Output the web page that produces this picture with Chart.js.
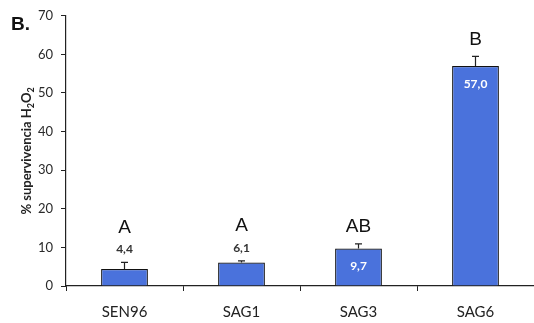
<!DOCTYPE html>
<html>
<head>
<meta charset="utf-8">
<script src="https://cdn.jsdelivr.net/npm/chart.js@4/dist/chart.umd.min.js"></script>
<style>
  html, body { margin: 0; padding: 0; background: #ffffff; }
  #wrap { position: relative; width: 534px; height: 323px; }
</style>
</head>
<body>
<div id="wrap"><canvas id="c" width="534" height="323"></canvas></div>
<script>
// Survival (%) after H2O2 treatment per strain
const strains = ['SEN96', 'SAG1', 'SAG3', 'SAG6'];
const survival = [4.4, 6.1, 9.7, 57.0];
const survivalErr = [1.7, 0.4, 1.2, 2.5];
const groupLetters = ['A', 'A', 'AB', 'B'];
const yTicks = [0, 10, 20, 30, 40, 50, 60, 70];

const fmt = v => v.toFixed(1).replace('.', ',');

// Error bars, value labels, significance letters, panel label and y title
const annotate = {
  id: 'annotate',
  afterDatasetsDraw(chart) {
    const ctx = chart.ctx;
    const y = chart.scales.y;
    const meta = chart.getDatasetMeta(0);
    const base = y.getPixelForValue(0);
    ctx.save();
    meta.data.forEach((bar, i) => {
      const top = y.getPixelForValue(survival[i]);
      const errTop = y.getPixelForValue(survival[i] + survivalErr[i]);
      // upper whisker with cap
      ctx.strokeStyle = '#222';
      ctx.lineWidth = 1.2;
      ctx.beginPath();
      ctx.moveTo(bar.x, top);
      ctx.lineTo(bar.x, errTop);
      ctx.moveTo(bar.x - 3.5, errTop);
      ctx.lineTo(bar.x + 3.5, errTop);
      ctx.stroke();

      const inside = (base - top) > 30;
      ctx.textAlign = 'center';
      ctx.textBaseline = 'middle';
      if (inside) {
        ctx.fillStyle = '#ffffff';
        ctx.font = 'bold 12px Lato';
        ctx.fillText(fmt(survival[i]), bar.x, top + 18);
      } else {
        ctx.fillStyle = '#333';
        ctx.font = 'bold 12px Lato';
        ctx.fillText(fmt(survival[i]), bar.x, errTop - 13);
      }
      ctx.fillStyle = '#111';
      ctx.font = '19px "Liberation Sans"';
      ctx.fillText(groupLetters[i], bar.x, errTop - (inside ? 17 : 35));
    });

    // panel label
    ctx.fillStyle = '#111';
    ctx.font = 'bold 19px "Liberation Sans"';
    ctx.textAlign = 'left';
    ctx.textBaseline = 'alphabetic';
    ctx.fillText('B.', 11, 30);

    // y axis title with subscripts
    const area = chart.chartArea;
    const cy = (area.top + area.bottom) / 2;
    const big = 'bold 13px Lato', small = 'bold 9px Lato';
    const parts = [['% supervivencia H', big, 0], ['2', small, 3], ['O', big, 0], ['2', small, 3]];
    let total = 0;
    parts.forEach(p => { ctx.font = p[1]; total += ctx.measureText(p[0]).width; });
    ctx.translate(27, cy);
    ctx.rotate(-Math.PI / 2);
    ctx.fillStyle = '#222';
    let x = -total / 2;
    parts.forEach(p => {
      ctx.font = p[1];
      ctx.fillText(p[0], x, 4 + p[2]);
      x += ctx.measureText(p[0]).width;
    });
    ctx.restore();
  }
};

new Chart(document.getElementById('c'), {
  type: 'bar',
  data: {
    labels: strains,
    datasets: [{
      data: survival,
      backgroundColor: 'rgb(74,114,220)',
      borderColor: '#111',
      borderWidth: 1.2,
      categoryPercentage: 0.8,
      barPercentage: 0.5
    }]
  },
  options: {
    responsive: false,
    animation: false,
    devicePixelRatio: 1,
    layout: { padding: { top: 11, right: 0, left: 0, bottom: 0 } },
    plugins: { legend: { display: false }, tooltip: { enabled: false } },
    scales: {
      x: {
        offset: true,
        grid: { display: true, offset: true, drawOnChartArea: false, drawTicks: true, tickLength: 5, color: '#222' },
        border: { display: true, color: '#222', width: 1.2 },
        ticks: { color: '#222', font: { family: 'Lato', size: 15 }, padding: 12 },
        afterFit(s) { s.height = 37; }
      },
      y: {
        min: 0, max: 70,
        afterBuildTicks(s) { s.ticks = yTicks.map(v => ({ value: v })); },
        grid: { display: true, drawOnChartArea: false, drawTicks: true, tickLength: 5, color: '#222' },
        border: { display: true, color: '#222', width: 1.2 },
        ticks: { color: '#2a2a2a', font: { family: 'Lato', size: 13 }, padding: 8 },
        afterFit(s) { s.width = 66; }
      }
    }
  },
  plugins: [annotate]
});
</script>
</body>
</html>
